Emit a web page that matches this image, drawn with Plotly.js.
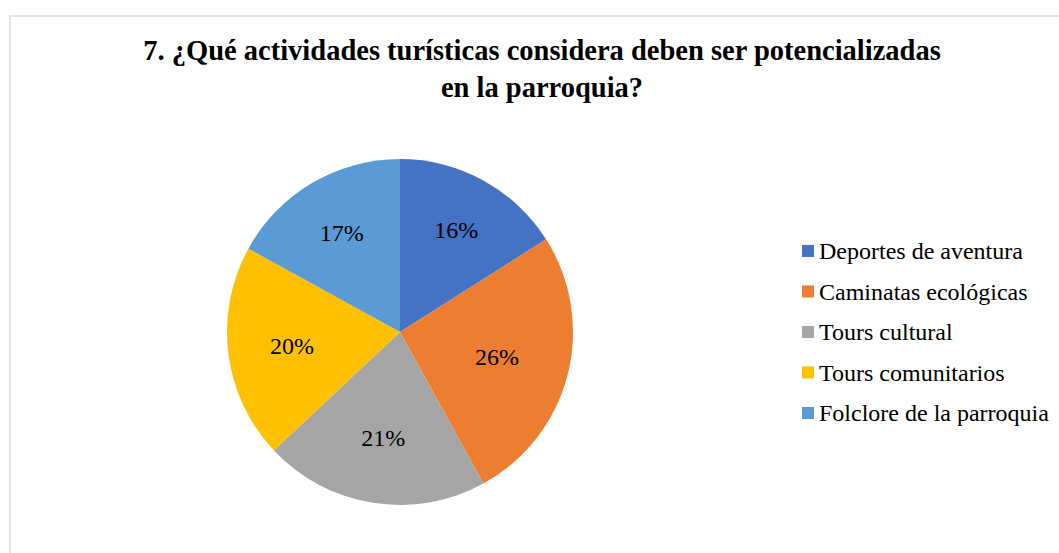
<!DOCTYPE html>
<html>
<head>
<meta charset="utf-8">
<script src="https://cdn.plot.ly/plotly-3.0.1.min.js"></script>
<style>
html,body{margin:0;padding:0;background:#fff;overflow:hidden;}
#frame{position:absolute;left:9px;top:15px;width:1100px;height:600px;border-top:2px solid #dfe3ea;border-left:2px solid #dfe3ea;}
#chart{position:absolute;left:0;top:0;width:1059px;height:553px;}
</style>
</head>
<body>
<div id="frame"></div>
<div id="chart"></div>
<script>
const categories = ["Deportes de aventura", "Caminatas ecológicas", "Tours cultural", "Tours comunitarios", "Folclore de la parroquia"];
const values = [16, 26, 21, 20, 17];
const colors = ["#4472C4", "#ED7D31", "#A5A5A5", "#FFC000", "#5B9BD5"];
const titleText = "7. ¿Qué actividades turísticas considera deben ser potencializadas<br>en la parroquia?";

const W = 1059, H = 553;
const px = x => x / W;
const py = y => 1 - y / H;
const serif = "'Liberation Serif', 'Times New Roman', serif";

const trace = {
  type: "pie",
  labels: categories,
  values: values,
  sort: false,
  direction: "clockwise",
  rotation: 0,
  marker: {colors: colors, line: {color: "#ffffff", width: 0}},
  textinfo: "percent",
  textposition: "inside",
  insidetextorientation: "horizontal",
  textfont: {family: serif, size: 24, color: "#000000"},
  hoverinfo: "label+percent",
  showlegend: false,
  domain: {x: [px(400 - 173), px(400 + 173)], y: [py(505), py(159)]}
};

const shapes = [];
const annotations = [];
const legendY0 = 251, legendStep = 40.5;
categories.forEach((c, i) => {
  const cy = legendY0 + i * legendStep;
  shapes.push({type: "rect", xref: "paper", yref: "paper",
    x0: px(802), x1: px(814), y0: py(cy + 6), y1: py(cy - 6),
    fillcolor: colors[i], line: {width: 0}});
  annotations.push({xref: "paper", yref: "paper", x: px(817), y: py(cy),
    xanchor: "left", yanchor: "middle", showarrow: false, text: c,
    font: {family: serif, size: 24, color: "#000000"}});
});

const layout = {
  width: W, height: H,
  margin: {l: 0, r: 0, t: 0, b: 0},
  paper_bgcolor: "rgba(0,0,0,0)",
  plot_bgcolor: "rgba(0,0,0,0)",
  title: {text: titleText, x: px(542), xanchor: "center", y: py(60), yanchor: "top",
    font: {family: serif, size: 28.5, color: "#000000", weight: "bold"}},
  shapes: shapes,
  annotations: annotations
};

Plotly.newPlot("chart", [trace], layout, {displayModeBar: false, staticPlot: true});
</script>
</body>
</html>
